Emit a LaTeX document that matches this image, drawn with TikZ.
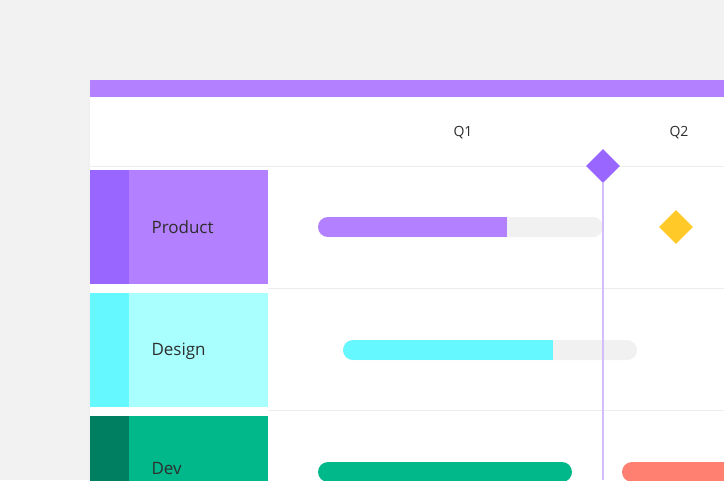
\documentclass[tikz,border=0pt]{standalone}
\usepackage{fontspec}
\setmainfont{Open Sans}
\usetikzlibrary{shapes.geometric}
\definecolor{pagebg}{HTML}{F2F2F2}
\definecolor{purpleA}{HTML}{9966FF}
\definecolor{purpleB}{HTML}{B380FF}
\definecolor{cyanA}{HTML}{66F8FF}
\definecolor{cyanB}{HTML}{A8FFFE}
\definecolor{greenA}{HTML}{008060}
\definecolor{greenB}{HTML}{00B88A}
\definecolor{track}{HTML}{F1F1F1}
\definecolor{gold}{HTML}{FFCA28}
\definecolor{salmon}{HTML}{FF8070}
\definecolor{nowline}{HTML}{D6BBFF}
\definecolor{ink}{HTML}{2E2E2E}
\definecolor{rule}{HTML}{EDEDED}
\begin{document}
\begin{tikzpicture}[x=1pt,y=-1pt,
  qlabel/.style={text=ink,font=\fontsize{14}{17}\selectfont},
  rowlabel/.style={anchor=west,text=ink,font=\fontsize{17}{20}\selectfont},
  sep/.style={rule,line width=1pt},
  gem/.style={diamond,inner sep=0pt,minimum size=34pt}]
\useasboundingbox (0,0) rectangle (724,480);
\clip (0,0) rectangle (724,480);
\fill[pagebg] (0,0) rectangle (724,480);
\fill[black!6] (88,82) rectangle (90,480);
\fill[white] (90,80) rectangle (724,480);
\fill[purpleB] (90,80) rectangle (724,97);
% quarters
\node[qlabel] (q1) at (463,133) {Q1};
\node[qlabel] (q2) at (679,133) {Q2};
\draw[sep] (90,166) -- (724,166);
\draw[sep] (268,288) -- (724,288);
\draw[sep] (268,410) -- (724,410);
% rows
\foreach \top/\dark/\light/\name/\txt/\dy in {170/purpleA/purpleB/prod/Product/57,
    293/cyanA/cyanB/design/Design/58, 416/greenA/greenB/dev/Dev/53}{
  \fill[\light] (90,\top) rectangle (268,\top+114);
  \fill[\dark] (90,\top) rectangle (129,\top+114);
  \node[rowlabel] (\name) at (148,\top+\dy) {\txt};
}
% bars
\fill[track,rounded corners=10pt] (318,217) rectangle (603,237);
\begin{scope}
  \clip[rounded corners=10pt] (318,217) rectangle (603,237);
  \fill[purpleB] (318,217) rectangle (507,237);
\end{scope}
\fill[track,rounded corners=10pt] (343,340) rectangle (637,360);
\begin{scope}
  \clip[rounded corners=10pt] (343,340) rectangle (637,360);
  \fill[cyanA] (343,340) rectangle (553,360);
\end{scope}
\fill[greenB,rounded corners=10pt] (318,462) rectangle (572,482);
\fill[salmon,rounded corners=10pt] (622,462) rectangle (760,482);
% milestones
\node[gem,fill=gold] (m2) at (676,227) {};
\coordinate (now end) at (603,480);
\node[gem,fill=purpleA] (now) at (603,166) {};
\draw[nowline,line width=2pt] (now.south) -- (now end);
\end{tikzpicture}
\end{document}
